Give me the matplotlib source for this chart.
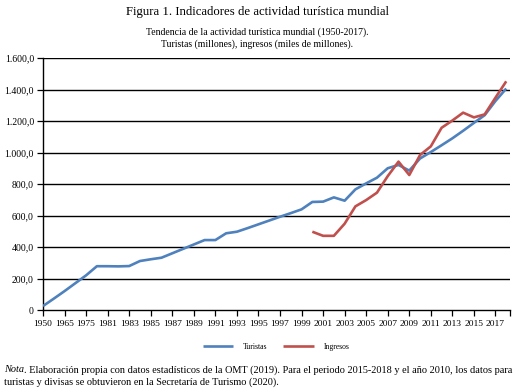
import matplotlib
matplotlib.use("Agg")
import matplotlib.pyplot as plt
import numpy as np

years = ["1950", "1960", "1965", "1970", "1975", "1980", "1981", "1982", "1983", "1984",
         "1985", "1986", "1987", "1988", "1989", "1990", "1991", "1992", "1993", "1994",
         "1995", "1996", "1997", "1998", "1999", "2000", "2001", "2002", "2003", "2004",
         "2005", "2006", "2007", "2008", "2009", "2010", "2011", "2012", "2013", "2014",
         "2015", "2016", "2017", "2018"]

turistas = [25, 72, 120, 170, 220, 278, 278, 277, 279, 311,
            322, 332, 360, 388, 416, 444, 444, 487, 497, 520,
            544, 568, 592, 615, 639, 686, 688, 715, 694, 766,
            804, 840, 900, 921, 885, 962, 1003, 1046, 1090, 1138,
            1188, 1237, 1327, 1406]

ingresos_years = ["2000", "2001", "2002", "2003", "2004", "2005", "2006", "2007", "2008",
                  "2009", "2010", "2011", "2012", "2013", "2014", "2015", "2016", "2017", "2018"]
ingresos = [497, 471, 471, 548, 658, 698, 745, 850, 942,
            857, 984, 1039, 1157, 1203, 1253, 1223, 1242, 1348, 1452]

y_ticks = [0, 200, 400, 600, 800, 1000, 1200, 1400, 1600]
y_tick_labels = ["0", "200,0", "400,0", "600,0", "800,0", "1.000,0", "1.200,0", "1.400,0", "1.600,0"]

title = "Figura 1. Indicadores de actividad turística mundial"
subtitle = "Tendencia de la actividad turística mundial (1950-2017).\nTuristas (millones), ingresos (miles de millones)."
note_italic = "Nota"
note_line1 = ". Elaboración propia con datos estadísticos de la OMT (2019). Para el periodo 2015-2018 y el año 2010, los datos para"
note_line2 = "turistas y divisas se obtuvieron en la Secretaría de Turismo (2020)."

serif = ["Liberation Serif", "DejaVu Serif"]
plt.rcParams["font.family"] = serif

fig = plt.figure(figsize=(5.15, 3.88), dpi=100)
ax = fig.add_axes([43/515, 1-310/388, (510-43)/515, (310-58)/388])

x_all = np.arange(len(years))
idx = {y: i for i, y in enumerate(years)}
x_ing = np.array([idx[y] for y in ingresos_years])

blue = "#4F81BD"
red = "#C0504D"

for v in y_ticks[1:]:
    ax.axhline(v, color="black", lw=1.0, zorder=1)

ax.plot(x_all, turistas, color=blue, lw=1.9, zorder=3, label="Turistas", solid_capstyle="butt")
ax.plot(x_ing, ingresos, color=red, lw=1.9, zorder=3, label="Ingresos", solid_capstyle="butt")

ax.set_xlim(0, len(years) - 1 + 0.35)
ax.set_ylim(0, 1600)

ax.set_yticks(y_ticks)
ax.set_yticklabels(y_tick_labels, fontsize=7.0)

xt = list(range(0, len(years), 2))
ax.set_xticks(xt + [len(years) - 1 + 0.35])
ax.set_xticklabels([years[i] for i in xt] + [""], fontsize=6.8)

ax.tick_params(axis="both", direction="out", length=4.5, width=0.9, color="black", pad=2)
ax.tick_params(axis="x", pad=3)

for s in ["top", "right"]:
    ax.spines[s].set_visible(False)
for s in ["left", "bottom"]:
    ax.spines[s].set_color("black")
    ax.spines[s].set_linewidth(1.0)

fig.text(0.5, 1-12/388, title, ha="center", va="center", fontsize=9.2)
fig.text(0.5, 1-38/388, subtitle, ha="center", va="center", fontsize=7.0, linespacing=1.3)

leg = fig.legend(loc="center", bbox_to_anchor=(276/515, 1-347/388), ncol=2, frameon=False,
                 fontsize=5.5, handlelength=4.0, columnspacing=2.0, handletextpad=1.3)

t_it = fig.text(4/515, 1-370/388, note_italic, ha="left", va="center", fontsize=7.4, style="italic")
fig.canvas.draw()
bb = t_it.get_window_extent(renderer=fig.canvas.get_renderer())
x_after = bb.x1 / fig.bbox.width
fig.text(x_after, 1-370/388, note_line1, ha="left", va="center", fontsize=7.4)
fig.text(4/515, 1-382/388, note_line2, ha="left", va="center", fontsize=7.4)

fig.savefig("out.png", dpi=100)
